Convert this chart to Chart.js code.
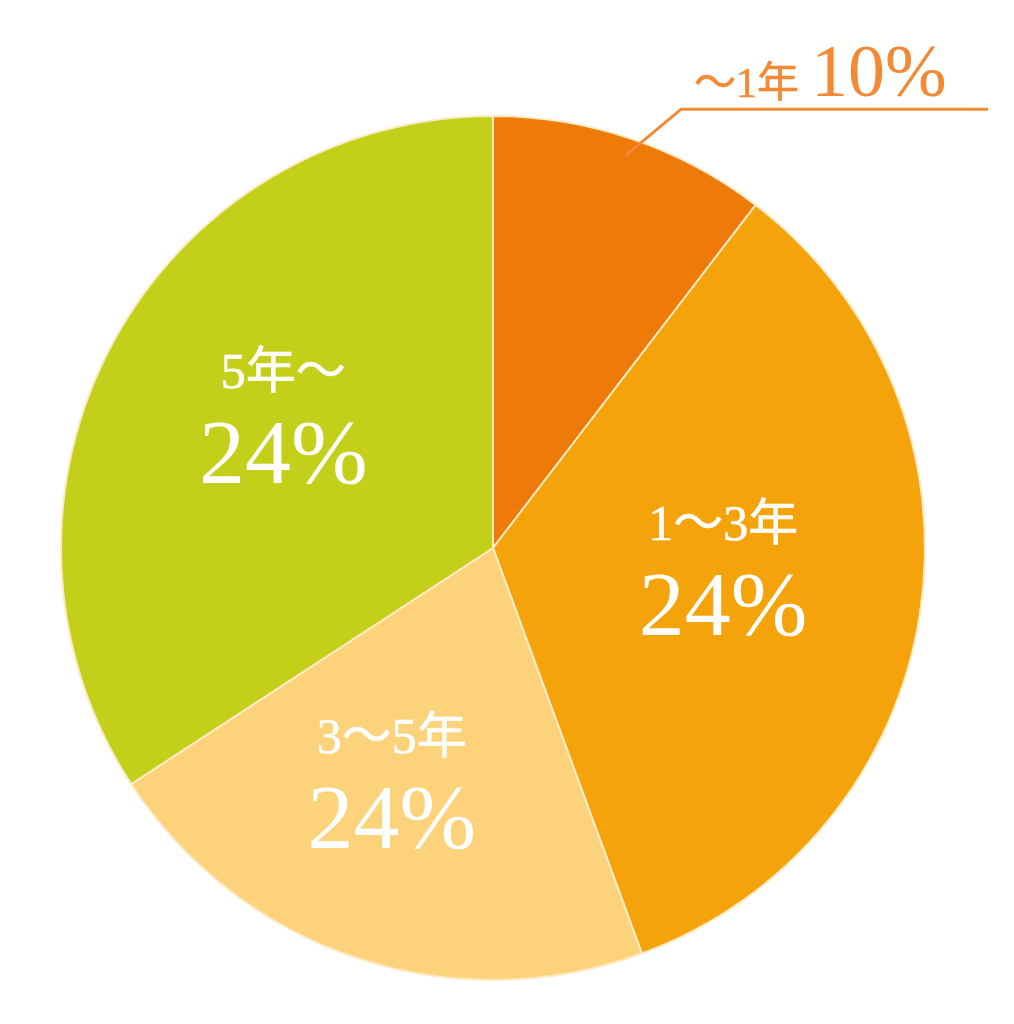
<!DOCTYPE html>
<html lang="ja">
<head>
<meta charset="UTF-8">
<title>勤続年数</title>
<script src="https://cdn.jsdelivr.net/npm/chart.js@4"></script>
<style>
  body { margin: 0; background: #fff; }
  canvas { display: block; }
</style>
</head>
<body>
<canvas id="pie" width="1014" height="1024"></canvas>
<script>
// slice sizes; printed labels kept as written
const categories = ['～1年', '1～3年', '3～5年', '5年～'];
const shares = [10.4, 34.0, 21.4, 34.2];
const pctLabels = ['10%', '24%', '24%', '24%'];

const SERIF = '"Liberation Serif", "Noto Sans CJK JP", serif';

// optional thin outline to make a face look a touch heavier
function drawText(ctx, text, x, y, weight) {
    if (weight > 0) {
        ctx.lineWidth = weight;
        ctx.strokeStyle = ctx.fillStyle;
        ctx.strokeText(text, x, y);
    }
    ctx.fillText(text, x, y);
}

const sliceLabels = {
    id: 'sliceLabels',
    afterDatasetsDraw(chart, args, opts) {
        const ctx = chart.ctx;
        const arcs = chart.getDatasetMeta(0).data;
        ctx.save();
        arcs.forEach((arc, i) => {
            const p = arc.getProps(['x', 'y', 'startAngle', 'endAngle', 'outerRadius'], true);
            const mid = (p.startAngle + p.endAngle) / 2;

            if (i === 0) {
                // small slice: leader line and label outside
                const sx = p.x + Math.cos(mid) * p.outerRadius * 0.96;
                const sy = p.y + Math.sin(mid) * p.outerRadius * 0.96;
                const ex = sx + 55, ey = sy - 46;
                ctx.strokeStyle = '#F28A35';
                ctx.lineWidth = 3;
                ctx.beginPath();
                ctx.moveTo(sx, sy);
                ctx.lineTo(ex, ey);
                ctx.lineTo(988, ey);
                ctx.stroke();

                ctx.fillStyle = '#F28A35';
                ctx.textAlign = 'left';
                ctx.textBaseline = 'alphabetic';
                ctx.font = '42px ' + SERIF;
                const tx = ex + 13;
                drawText(ctx, categories[i], tx, ey - 12, 0.6);
                const w = ctx.measureText(categories[i]).width;
                ctx.font = '74px ' + SERIF;
                drawText(ctx, pctLabels[i], tx + w + 12, ey - 13, 0);
                return;
            }

            const off = opts.offsets[i] || [0, 0];
            const r = p.outerRadius * 0.56;
            const cx = p.x + Math.cos(mid) * r + off[0];
            const cy = p.y + Math.sin(mid) * r + off[1];
            ctx.fillStyle = '#ffffff';
            ctx.textAlign = 'center';
            ctx.textBaseline = 'middle';
            ctx.font = '50px ' + SERIF;
            drawText(ctx, categories[i], cx, cy - 44, 0.6);
            ctx.font = '92px ' + SERIF;
            drawText(ctx, pctLabels[i], cx, cy + 40, 0);
        });
        ctx.restore();
    }
};

new Chart(document.getElementById('pie'), {
    type: 'pie',
    data: {
        labels: categories,
        datasets: [{
            data: shares,
            backgroundColor: ['#EE7A0A', '#F5A30B', '#FCD27B', '#C4CF1A'],
            borderColor: '#FDEBC6',
            borderWidth: 2
        }]
    },
    options: {
        responsive: false,
        animation: false,
        layout: { padding: { left: 57, right: 85, top: 115, bottom: 43 } },
        plugins: {
            legend: { display: false },
            tooltip: { enabled: false },
            sliceLabels: { offsets: [null, [-9, -13], [-25, 6], [3, -14]] }
        }
    },
    plugins: [sliceLabels]
});
</script>
</body>
</html>
